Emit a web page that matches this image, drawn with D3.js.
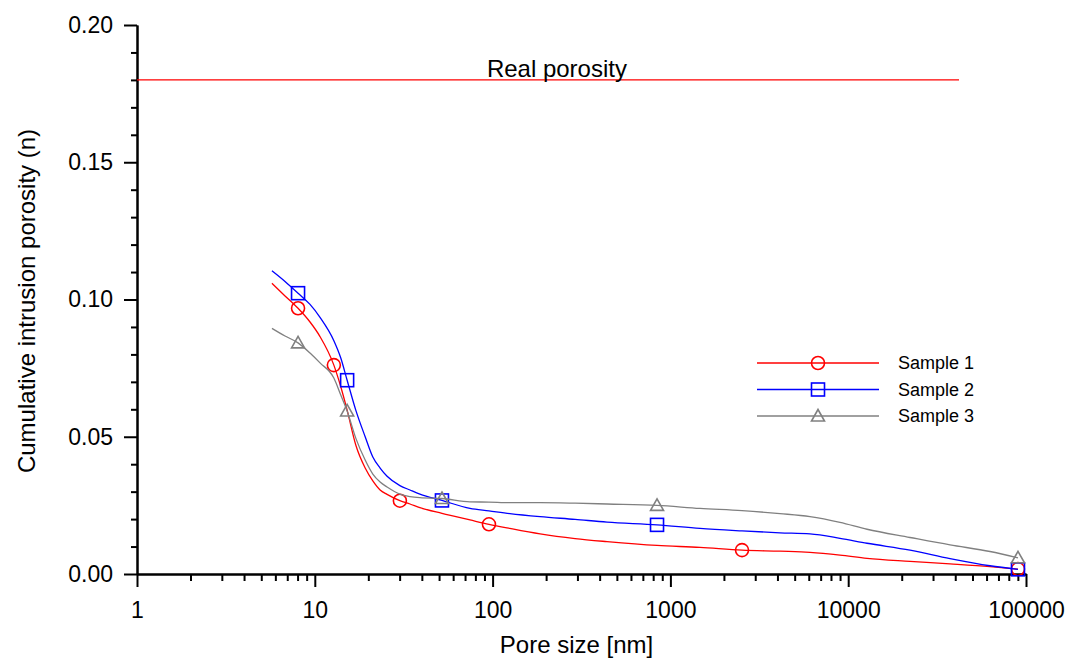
<!DOCTYPE html>
<html>
<head>
<meta charset="utf-8">
<script src="https://cdn.jsdelivr.net/npm/d3@7"></script>
<style>
  body { margin: 0; background: #fff; }
  svg { font-family: "Liberation Sans", Arial, sans-serif; }
  .axis path, .axis line { stroke: #000; stroke-width: 2; }
  .axis text { font-size: 23px; fill: #000; }
</style>
</head>
<body>
<svg width="1071" height="659"></svg>
<script>
// Pore sizes [nm] shared by all three curves
const poreSize = [5.74, 6.80, 8.05, 9.40, 10.7, 12.8, 14.0, 15.2, 17.0, 19.2, 21.2, 23.3, 25.5,
  30.1, 34.3, 39.0, 51.9, 74.6, 95.4, 125, 185, 291, 440, 841, 1467, 2528, 4135, 6098,
  8993, 12760, 22270, 37390, 62740, 90150];

// Cumulative intrusion porosity per sample
const sample1 = [0.1059, 0.1013, 0.0968, 0.0918, 0.0865, 0.0761, 0.0682, 0.0597, 0.0470, 0.0386,
  0.0339, 0.0306, 0.0290, 0.0267, 0.0255, 0.0242, 0.0221, 0.0197, 0.0181, 0.0166, 0.0146,
  0.0129, 0.0118, 0.0104, 0.0097, 0.0087, 0.0083, 0.0079, 0.0069, 0.0057, 0.0046, 0.0037,
  0.0027, 0.0018];
const sample2 = [0.1105, 0.1066, 0.1023, 0.0982, 0.0935, 0.0850, 0.0787, 0.0706, 0.0597, 0.0500,
  0.0426, 0.0386, 0.0356, 0.0322, 0.0306, 0.0291, 0.0268, 0.0239, 0.0230, 0.0220, 0.0209,
  0.0199, 0.0189, 0.0179, 0.0166, 0.0157, 0.0150, 0.0146, 0.0130, 0.0112, 0.0087, 0.0056,
  0.0030, 0.0017];
const sample3 = [0.0895, 0.0867, 0.0842, 0.0805, 0.0769, 0.0714, 0.0652, 0.0594, 0.0495, 0.0415,
  0.0364, 0.0335, 0.0317, 0.0291, 0.0282, 0.0278, 0.0275, 0.0263, 0.0262, 0.0260, 0.0260,
  0.0258, 0.0255, 0.0250, 0.0239, 0.0231, 0.0220, 0.0209, 0.0188, 0.0163, 0.0133, 0.0106,
  0.0082, 0.0059];

// Pore sizes where each sample carries a marker
const markers1 = [8.05, 12.8, 30.1, 95.4, 2528, 90150];
const markers2 = [8.05, 15.2, 51.9, 841, 90150];
const markers3 = [8.05, 15.2, 51.9, 841, 90150];

const seriesNames = ["Sample 1", "Sample 2", "Sample 3"];
const seriesColors = ["#ff0000", "#0000ff", "#808080"];
const seriesSymbols = ["circle", "square", "triangle"];

const realPorosity = 0.18;
const realPorosityEnd = 42000;

const xTicks = [1, 10, 100, 1000, 10000, 100000];
const yTicks = [0, 0.05, 0.10, 0.15, 0.20];

const svg = d3.select("svg"),
    margin = { top: 25, right: 45, bottom: 85, left: 137 },
    width = +svg.attr("width") - margin.left - margin.right,
    height = +svg.attr("height") - margin.top - margin.bottom,
    g = svg.append("g").attr("transform", `translate(${margin.left},${margin.top})`);

const x = d3.scaleLog().domain([1, 100000]).range([0, width]);
const y = d3.scaleLinear().domain([0, 0.2]).range([height, 0]);

// minor ticks: 2..9 in each decade, 0.01 steps on y
const xMinor = [];
for (let d = 1; d < 100000; d *= 10) for (let k = 2; k <= 9; k++) xMinor.push(d * k);
const yMinor = d3.range(1, 20).map(i => i / 100).filter(v => Math.round(v * 100) % 5 !== 0);

g.append("g").attr("class", "axis")
    .attr("transform", `translate(0,${height})`)
    .call(d3.axisBottom(x).tickValues(xMinor).tickSize(7).tickFormat("").tickSizeOuter(0));
g.append("g").attr("class", "axis")
    .attr("transform", `translate(0,${height})`)
    .call(d3.axisBottom(x).tickValues(xTicks).tickSize(13).tickPadding(15).tickFormat(d3.format("d")).tickSizeOuter(0));

g.append("g").attr("class", "axis")
    .call(d3.axisLeft(y).tickValues(yMinor).tickSize(6).tickFormat("").tickSizeOuter(0));
g.append("g").attr("class", "axis")
    .call(d3.axisLeft(y).tickValues(yTicks).tickSize(13).tickPadding(11).tickFormat(d3.format(".2f")).tickSizeOuter(0));

// axis titles
g.append("text")
    .attr("x", width / 2 - 5)
    .attr("y", height + 79)
    .attr("text-anchor", "middle")
    .attr("font-size", "24px")
    .text("Pore size [nm]");

g.append("text")
    .attr("transform", "rotate(-90)")
    .attr("x", -276)
    .attr("y", -102)
    .attr("text-anchor", "middle")
    .attr("font-size", "24px")
    .text("Cumulative intrusion porosity (n)");

// Real porosity line
g.append("line")
    .attr("x1", x(1)).attr("x2", x(realPorosityEnd))
    .attr("y1", y(realPorosity)).attr("y2", y(realPorosity))
    .attr("stroke", "#ff0000")
    .attr("stroke-width", 1.3);

g.append("text")
    .attr("x", x(230))
    .attr("y", y(realPorosity) - 3)
    .attr("text-anchor", "middle")
    .attr("font-size", "24px")
    .text("Real porosity");

// marker drawing helper
function drawSymbol(sel, type, color) {
    if (type === "circle") {
        sel.append("circle").attr("r", 6.5);
    } else if (type === "square") {
        sel.append("rect").attr("x", -6.5).attr("y", -6.5).attr("width", 13).attr("height", 13);
    } else {
        sel.append("path").attr("d", "M0,-6.5L6.5,5L-6.5,5Z");
    }
    sel.selectAll("*")
        .attr("fill", "none")
        .attr("stroke", color)
        .attr("stroke-width", 1.6);
}

const line = d3.line()
    .x(d => x(d[0]))
    .y(d => y(d[1]))
    .curve(d3.curveMonotoneX);

const allSeries = [sample1, sample2, sample3];
const allMarkers = [markers1, markers2, markers3];

allSeries.forEach((vals, i) => {
    const data = poreSize.map((p, j) => [p, vals[j]]);
    const gLine = g.append("g");

    gLine.append("path")
        .datum(data)
        .attr("d", line)
        .attr("fill", "none")
        .attr("stroke", seriesColors[i])
        .attr("stroke-width", 1.3);

    const pts = data.filter(d => allMarkers[i].includes(d[0]));
    gLine.selectAll("g.pt")
        .data(pts)
        .enter().append("g")
        .attr("class", "pt")
        .attr("transform", d => `translate(${x(d[0])},${y(d[1])})`)
        .each(function () { drawSymbol(d3.select(this), seriesSymbols[i], seriesColors[i]); });
});

// Legend
const legend = svg.selectAll(".legend")
    .data(seriesNames)
    .enter().append("g")
    .attr("class", "legend")
    .attr("transform", (d, i) => `translate(757,${363 + i * 26.5})`);

legend.append("line")
    .attr("x1", 0).attr("x2", 122)
    .attr("stroke", (d, i) => seriesColors[i])
    .attr("stroke-width", 1.3);

legend.append("g")
    .attr("transform", "translate(61,0)")
    .each(function (d, i) { drawSymbol(d3.select(this), seriesSymbols[i], seriesColors[i]); });

legend.append("text")
    .attr("x", 141)
    .attr("dy", "0.35em")
    .attr("font-size", "18px")
    .text(d => d);
</script>
</body>
</html>
